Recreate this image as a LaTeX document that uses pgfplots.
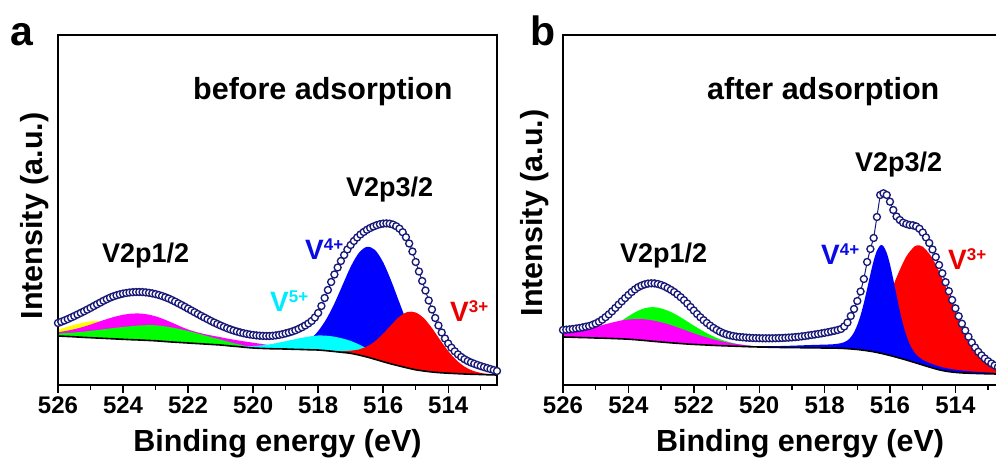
\documentclass[border=0pt]{standalone}
\usepackage{fontspec}
\setmainfont{Liberation Sans}
\usepackage{pgfplots}
\pgfplotsset{compat=1.18}
\definecolor{envc}{RGB}{25,25,120}
\definecolor{cyn}{RGB}{0,255,255}
\definecolor{grn}{RGB}{0,255,0}
\definecolor{mag}{RGB}{255,0,255}
\definecolor{yel}{RGB}{255,255,0}
\definecolor{blu}{RGB}{0,0,255}
\definecolor{rd}{RGB}{255,0,0}
\definecolor{lblblue}{RGB}{10,10,230}
\definecolor{lblcyan}{RGB}{0,235,255}
\definecolor{lblred}{RGB}{235,0,0}
\newcommand{\sups}[1]{\raisebox{9pt}{\fontsize{17}{17}\selectfont #1}}
\pgfplotsset{
  xps/.style={
    scale only axis, height=350pt, x dir=reverse, ymin=0, ymax=350,
    axis on top, ytick=\empty, xtick={514,516,...,526}, minor xtick={513,515,...,525},
    tick align=outside, xtick pos=left, ytick pos=left,
    major tick length=8pt, minor tick length=5pt,
    every tick/.style={black, line width=1.4pt},
    axis line style={line width=1.5pt},
    xticklabel style={font=\fontsize{24}{28}\selectfont\bfseries},
    /pgf/number format/assume math mode=true,
    /pgf/number format/1000 sep={},
  },
  fillp/.style={draw=none, smooth, forget plot},
  bgline/.style={black, line width=1.6pt, smooth, forget plot},
  envl/.style={envc, line width=1pt, mark=*, mark size=3.5pt, mark options={fill=white, draw=envc, line width=1.35pt, solid}},
}
\begin{document}
\begin{tikzpicture}
\useasboundingbox (0pt,0pt) rectangle (996pt,465pt);
% ---------------- panel a ----------------
\begin{axis}[xps, at={(277.5pt,255pt)}, anchor=center, width=439pt, xmin=512.5, xmax=526,
  xlabel={Binding energy (eV)},
  xlabel style={at={(axis description cs:0.5,0)}, anchor=base, yshift=-67pt, font=\fontsize{30.5}{36}\selectfont\bfseries}]
% yellow
\addplot[fillp, fill=yel] coordinates {(526,55.4)(525.75,57.7)(525.5,60.2)(525.25,62.2)(525,63.7)(524.75,63.9)(524.5,62.9)(524.25,60.6)(524,57.7)(523.75,54.4)(523.5,51.4)(523.25,48.8)(523,46.7)(522.75,45.0)(522.5,43.7)(522.25,42.5)(522,42.0)} \closedcycle;
% magenta
\addplot[fillp, fill=mag] coordinates {(526,52.8)(525.75,54.1)(525.5,55.8)(525.25,57.9)(525,60.4)(524.75,63.2)(524.5,65.9)(524.25,68.3)(524,70.2)(523.75,71.3)(523.5,71.5)(523.25,70.6)(523,68.7)(522.75,65.8)(522.5,62.4)(522.25,58.8)(522,55.5)(521.75,53.0)(521.5,51.0)(521.25,49.3)(521,47.8)(520.75,46.2)(520.5,44.8)(520.25,43.5)(520,42.3)(519.75,41.1)(519.5,39.8)(519.25,38.6)(519,37.5)(518.75,36.5)(518.5,35.8)(518.25,35.2)(518,35.0)} \closedcycle;
% green
\addplot[fillp, fill=grn] coordinates {(526,51.5)(525.75,51.9)(525.5,52.5)(525.25,53.2)(525,54.1)(524.75,55.1)(524.5,56.1)(524.25,57.1)(524,58.0)(523.75,58.8)(523.5,59.5)(523.25,59.8)(523,59.7)(522.75,58.8)(522.5,57.5)(522.25,55.9)(522,54.0)(521.75,51.9)(521.5,49.7)(521.25,47.5)(521,45.4)(520.75,43.1)(520.5,41.1)(520.25,39.2)(520,37.7)(519.75,36.8)(519.5,36.3)} \closedcycle;
% blue V4+
\addplot[fillp, fill=blu] coordinates {(519.5,36.3)(519.25,36.5)(519,37.0)(518.75,38.1)(518.5,40.7)(518.25,45.6)(518,53.9)(517.75,65.8)(517.5,81.5)(517.25,99.9)(517,118.2)(516.75,132.0)(516.5,138.2)(516.25,135.0)(516,122.7)(515.75,103.9)(515.5,82.4)(515.25,61.4)(515,43.8)(514.75,30.9)(514.5,22.1)(514.25,16.8)(514,13.9)(513.75,12.3)(513.5,11.3)(513.25,10.7)} \closedcycle;
% cyan V5+
\addplot[fillp, fill=cyn] coordinates {(521,40.2)(520.75,39.6)(520.5,39.2)(520.25,38.9)(520,39.0)(519.75,39.6)(519.5,40.6)(519.25,42.1)(519,43.8)(518.75,45.5)(518.5,47.2)(518.25,48.6)(518,49.5)(517.75,49.3)(517.5,48.3)(517.25,46.5)(517,44.1)(516.75,40.6)(516.5,36.6)(516.25,32.4)(516,28.2)(515.75,24.5)(515.5,21.3)(515.25,18.5)(515,16.1)(514.75,14.6)(514.5,13.3)(514.25,12.3)} \closedcycle;
% red V3+
\addplot[fillp, fill=rd] coordinates {(518,35.0)(517.75,34.4)(517.5,33.9)(517.25,33.7)(517,34.3)(516.75,35.5)(516.5,38.5)(516.25,43.7)(516,51.3)(515.75,60.1)(515.5,68.3)(515.25,73.0)(515,72.5)(514.75,66.8)(514.5,56.9)(514.25,45.1)(514,33.9)(513.75,24.9)(513.5,18.4)(513.25,14.3)(513,12.1)(512.75,10.8)(512.5,10.3)} \closedcycle;
% background
\addplot[fillp, fill=white] coordinates {(526,49.0)(525.75,48.6)(525.5,48.2)(525.25,47.7)(525,47.3)(524.75,46.9)(524.5,46.5)(524.25,46.1)(524,45.7)(523.75,45.3)(523.5,45.0)(523.25,44.6)(523,44.2)(522.75,43.6)(522.5,43.0)(522.25,42.5)(522,42.0)(521.75,41.5)(521.5,41.0)(521.25,40.5)(521,40.0)(520.75,39.2)(520.5,38.5)(520.25,37.7)(520,37.0)(519.75,36.6)(519.5,36.3)(519.25,36.1)(519,36.0)(518.75,35.7)(518.5,35.5)(518.25,35.2)(518,35.0)(517.75,34.3)(517.5,33.5)(517.25,32.6)(517,31.7)(516.75,30.0)(516.5,28.0)(516.25,25.7)(516,23.3)(515.75,21.0)(515.5,19.0)(515.25,17.0)(515,15.2)(514.75,14.0)(514.5,13.0)(514.25,12.3)(514,11.8)(513.75,11.4)(513.5,11.0)(513.25,10.7)(513,10.5)(512.75,10.2)(512.5,10.0)} \closedcycle;
\addplot[bgline] coordinates {(526,49.0)(525.75,48.6)(525.5,48.2)(525.25,47.7)(525,47.3)(524.75,46.9)(524.5,46.5)(524.25,46.1)(524,45.7)(523.75,45.3)(523.5,45.0)(523.25,44.6)(523,44.2)(522.75,43.6)(522.5,43.0)(522.25,42.5)(522,42.0)(521.75,41.5)(521.5,41.0)(521.25,40.5)(521,40.0)(520.75,39.2)(520.5,38.5)(520.25,37.7)(520,37.0)(519.75,36.6)(519.5,36.3)(519.25,36.1)(519,36.0)(518.75,35.7)(518.5,35.5)(518.25,35.2)(518,35.0)(517.75,34.3)(517.5,33.5)(517.25,32.6)(517,31.7)(516.75,30.0)(516.5,28.0)(516.25,25.7)(516,23.3)(515.75,21.0)(515.5,19.0)(515.25,17.0)(515,15.2)(514.75,14.0)(514.5,13.0)(514.25,12.3)(514,11.8)(513.75,11.4)(513.5,11.0)(513.25,10.7)(513,10.5)(512.75,10.2)(512.5,10.0)};
% envelope
\addplot[envl] coordinates {(526.0,62.0)(525.9,63.2)(525.8,64.5)(525.7,65.9)(525.6,67.4)(525.5,68.9)(525.4,70.5)(525.3,72.1)(525.2,73.7)(525.1,75.4)(525.0,77.1)(524.9,78.9)(524.8,80.7)(524.7,82.4)(524.6,84.2)(524.5,85.8)(524.4,87.3)(524.3,88.6)(524.2,89.7)(524.1,90.6)(524.0,91.4)(523.9,92.0)(523.8,92.5)(523.7,92.8)(523.6,93.0)(523.5,93.0)(523.4,92.9)(523.3,92.6)(523.2,92.2)(523.1,91.6)(523.0,90.9)(522.9,90.0)(522.8,89.0)(522.7,87.8)(522.6,86.5)(522.5,85.0)(522.4,83.4)(522.3,81.7)(522.2,80.0)(522.1,78.2)(522.0,76.4)(521.9,74.6)(521.8,72.8)(521.7,71.0)(521.6,69.2)(521.5,67.5)(521.4,65.8)(521.3,64.1)(521.2,62.5)(521.1,61.0)(521.0,59.5)(520.9,58.1)(520.8,56.8)(520.7,55.6)(520.6,54.5)(520.5,53.5)(520.4,52.6)(520.3,51.8)(520.2,51.1)(520.1,50.5)(520.0,50.0)(519.9,49.6)(519.8,49.3)(519.7,49.1)(519.6,49.0)(519.5,49.0)(519.4,49.2)(519.3,49.6)(519.2,50.1)(519.1,50.8)(519.0,51.6)(518.9,52.5)(518.8,53.5)(518.7,54.7)(518.6,56.1)(518.5,57.7)(518.4,59.5)(518.3,61.6)(518.2,64.0)(518.1,67.5)(518.0,72.0)(517.9,79.0)(517.8,87.0)(517.7,95.0)(517.6,103.0)(517.5,110.5)(517.4,117.5)(517.3,124.0)(517.2,130.0)(517.1,135.5)(517.0,140.0)(516.9,144.0)(516.8,147.5)(516.7,150.5)(516.6,153.0)(516.5,155.2)(516.4,157.0)(516.3,158.5)(516.2,159.8)(516.1,160.8)(516.0,161.4)(515.9,161.6)(515.8,161.3)(515.7,160.4)(515.6,158.8)(515.5,156.4)(515.4,152.8)(515.3,147.8)(515.2,141.5)(515.1,133.5)(515.0,123.0)(514.9,113.5)(514.8,104.0)(514.7,94.5)(514.6,84.5)(514.5,75.5)(514.4,67.0)(514.3,59.5)(514.2,52.5)(514.1,46.5)(514.0,41.5)(513.9,37.3)(513.8,33.7)(513.7,30.6)(513.6,28.0)(513.5,25.8)(513.4,24.0)(513.3,22.5)(513.2,21.2)(513.1,20.0)(513.0,18.9)(512.9,17.9)(512.8,16.9)(512.7,15.9)(512.6,14.9)(512.5,14.0)};
\end{axis}
% ---------------- panel b ----------------
\begin{axis}[xps, at={(782.5pt,255pt)}, anchor=center, width=439pt, xmin=512.575, xmax=526,
  xlabel={Binding energy (eV)},
  xlabel style={at={(axis description cs:0.54,0)}, anchor=base, yshift=-67pt, font=\fontsize{30.5}{36}\selectfont\bfseries}]
% green
\addplot[fillp, fill=grn] coordinates {(526,48.0)(525.75,48.3)(525.5,48.7)(525.25,49.8)(525,51.5)(524.75,54.4)(524.5,58.4)(524.25,63.4)(524,68.7)(523.75,73.5)(523.5,76.8)(523.25,77.9)(523,76.6)(522.75,73.7)(522.5,69.6)(522.25,64.6)(522,59.4)(521.75,54.5)(521.5,50.1)(521.25,46.4)(521,43.7)(520.75,41.6)(520.5,40.1)(520.25,39.1)(520,38.4)(519.75,37.8)} \closedcycle;
% magenta (drawn over green)
\addplot[fillp, fill=mag] coordinates {(526,51.6)(525.75,52.8)(525.5,54.3)(525.25,56.1)(525,58.1)(524.75,60.4)(524.5,62.4)(524.25,64.3)(524,65.5)(523.75,66.0)(523.5,65.7)(523.25,64.5)(523,62.7)(522.75,60.4)(522.5,57.6)(522.25,54.7)(522,51.7)(521.75,49.0)(521.5,46.6)(521.25,44.4)(521,42.7)(520.75,41.2)(520.5,40.1)(520.25,39.2)(520,38.6)(519.75,38.1)(519.5,37.6)} \closedcycle;
% red V3+
\addplot[fillp, fill=rd] coordinates {(518,37.0)(517.75,37.4)(517.5,38.0)(517.25,39.4)(517,42.5)(516.75,48.4)(516.5,58.4)(516.25,72.9)(516,91.4)(515.75,111.4)(515.5,128.6)(515.25,138.6)(515.1,139.7)(515,138.3)(514.75,129.2)(514.5,113.7)(514.25,94.6)(514,74.7)(513.75,56.4)(513.5,41.4)(513.25,29.9)(513,21.9)(512.75,16.8)(512.5,13.8)} \closedcycle;
% blue V4+
\addplot[fillp, fill=blu] coordinates {(520.5,38.5)(520,38.9)(519.5,38.9)(519,39.3)(518.5,39.9)(518,40.4)(517.75,40.7)(517.5,41.8)(517.4,42.8)(517.3,44.6)(517.2,47.8)(517.1,52.7)(517.0,60.0)(516.9,69.7)(516.8,82.0)(516.7,96.1)(516.6,110.8)(516.5,124.3)(516.4,134.4)(516.3,139.6)(516.25,140.0)(516.2,138.8)(516.1,132.2)(516.0,120.6)(515.9,105.7)(515.8,89.6)(515.7,74.1)(515.6,60.5)(515.5,49.5)(515.4,41.0)(515.3,34.8)(515.2,30.4)(515.1,27.4)(515.0,25.1)(514.75,21.4)(514.5,18.6)(514.25,16.6)(514.0,15.3)(513.75,14.3)(513.5,13.6)(513.25,13.0)(513.0,12.6)(512.75,12.1)(512.5,11.8)} \closedcycle;
% background
\addplot[fillp, fill=white] coordinates {(526,48.0)(525.75,47.8)(525.5,47.5)(525.25,47.3)(525,47.0)(524.75,46.8)(524.5,46.5)(524.25,46.2)(524,45.8)(523.75,45.2)(523.5,44.5)(523.25,43.7)(523,43.0)(522.75,42.3)(522.5,41.7)(522.25,41.1)(522,40.6)(521.75,40.2)(521.5,39.8)(521.25,39.4)(521,39.1)(520.75,38.8)(520.5,38.5)(520.25,38.2)(520,38.0)(519.75,37.8)(519.5,37.6)(519.25,37.5)(519,37.4)(518.75,37.3)(518.5,37.2)(518.25,37.1)(518,37.0)(517.75,36.9)(517.5,36.7)(517.25,36.2)(517,35.5)(516.75,34.5)(516.5,33.2)(516.25,31.5)(516,29.5)(515.75,27.3)(515.5,25.0)(515.25,22.5)(515,20.0)(514.75,17.5)(514.5,15.2)(514.25,13.6)(514,12.6)(513.75,12.0)(513.5,11.7)(513.25,11.4)(513,11.2)(512.75,11.0)(512.5,10.9)} \closedcycle;
\addplot[bgline] coordinates {(526,48.0)(525.75,47.8)(525.5,47.5)(525.25,47.3)(525,47.0)(524.75,46.8)(524.5,46.5)(524.25,46.2)(524,45.8)(523.75,45.2)(523.5,44.5)(523.25,43.7)(523,43.0)(522.75,42.3)(522.5,41.7)(522.25,41.1)(522,40.6)(521.75,40.2)(521.5,39.8)(521.25,39.4)(521,39.1)(520.75,38.8)(520.5,38.5)(520.25,38.2)(520,38.0)(519.75,37.8)(519.5,37.6)(519.25,37.5)(519,37.4)(518.75,37.3)(518.5,37.2)(518.25,37.1)(518,37.0)(517.75,36.9)(517.5,36.7)(517.25,36.2)(517,35.5)(516.75,34.5)(516.5,33.2)(516.25,31.5)(516,29.5)(515.75,27.3)(515.5,25.0)(515.25,22.5)(515,20.0)(514.75,17.5)(514.5,15.2)(514.25,13.6)(514,12.6)(513.75,12.0)(513.5,11.7)(513.25,11.4)(513,11.2)(512.75,11.0)(512.5,10.9)};
% envelope
\addplot[envl] coordinates {(526.0,55.0)(525.9,55.3)(525.8,55.6)(525.7,56.0)(525.6,56.5)(525.5,57.0)(525.4,57.6)(525.3,58.3)(525.2,59.0)(525.1,60.1)(525.0,61.5)(524.9,63.2)(524.8,65.3)(524.7,67.8)(524.6,70.6)(524.5,73.7)(524.4,77.0)(524.3,80.4)(524.2,83.7)(524.1,86.9)(524.0,90.0)(523.9,93.0)(523.8,95.6)(523.7,97.8)(523.6,99.4)(523.5,100.6)(523.4,101.4)(523.3,101.7)(523.2,101.6)(523.1,101.0)(523.0,100.0)(522.9,98.7)(522.8,97.0)(522.7,95.1)(522.6,93.0)(522.5,90.5)(522.4,87.8)(522.3,84.8)(522.2,81.5)(522.1,78.0)(522.0,74.5)(521.9,71.0)(521.8,67.8)(521.7,64.8)(521.6,62.0)(521.5,59.4)(521.4,57.1)(521.3,55.1)(521.2,53.3)(521.1,51.8)(521.0,50.6)(520.9,49.7)(520.8,49.0)(520.7,48.4)(520.6,48.0)(520.5,47.7)(520.4,47.4)(520.3,47.2)(520.2,47.0)(520.1,46.9)(520.0,46.8)(519.9,46.7)(519.8,46.7)(519.7,46.7)(519.6,46.7)(519.5,46.8)(519.4,46.9)(519.3,47.0)(519.2,47.2)(519.1,47.4)(519.0,47.6)(518.9,47.9)(518.8,48.2)(518.7,48.6)(518.6,49.0)(518.5,49.5)(518.4,50.0)(518.3,50.5)(518.2,51.0)(518.1,51.6)(518.0,52.2)(517.9,52.8)(517.8,53.5)(517.7,54.2)(517.6,55.0)(517.5,56.0)(517.4,58.5)(517.3,62.5)(517.2,69.0)(517.1,76.0)(517.0,84.0)(516.9,93.5)(516.8,106.0)(516.7,123.0)(516.6,136.0)(516.5,147.0)(516.4,168.0)(516.3,190.0)(516.2,191.7)(516.1,190.0)(516.0,183.3)(515.9,175.0)(515.8,168.5)(515.7,165.0)(515.6,162.3)(515.5,161.0)(515.4,160.0)(515.3,159.7)(515.2,158.6)(515.1,156.3)(515.0,152.5)(514.9,147.6)(514.8,142.0)(514.7,135.5)(514.6,128.0)(514.5,120.0)(514.4,111.7)(514.3,102.8)(514.2,93.8)(514.1,85.0)(514.0,76.7)(513.9,68.8)(513.8,61.3)(513.7,54.5)(513.6,48.3)(513.5,42.5)(513.4,37.5)(513.3,33.2)(513.2,29.6)(513.1,26.5)(513.0,23.8)(512.9,21.5)(512.8,19.5)(512.7,17.8)(512.6,16.3)(512.5,15.0)};
\end{axis}
% ---------------- text ----------------
\begin{scope}[every node/.style={inner sep=0pt}]
\node[anchor=base west, font=\fontsize{41}{45}\selectfont\bfseries] at (10pt,419pt) {a};
\node[anchor=base west, font=\fontsize{41}{45}\selectfont\bfseries] at (530pt,419pt) {b};
\node[anchor=base west, font=\fontsize{30.5}{36}\selectfont\bfseries] at (193pt,365pt) {before adsorption};
\node[anchor=base west, font=\fontsize{30.5}{36}\selectfont\bfseries] at (707pt,365pt) {after adsorption};
\node[rotate=90, anchor=base, font=\fontsize{30.5}{36}\selectfont\bfseries] at (42pt,249pt) {Intensity (a.u.)};
\node[rotate=90, anchor=base, font=\fontsize{30.5}{36}\selectfont\bfseries] at (542pt,252pt) {Intensity (a.u.)};
\node[anchor=base west, font=\fontsize{27}{32}\selectfont\bfseries] at (346pt,268pt) {V2p3/2};
\node[anchor=base west, font=\fontsize{27}{32}\selectfont\bfseries] at (102pt,202pt) {V2p1/2};
\node[anchor=base west, font=\fontsize{28}{32}\selectfont\bfseries, text=lblblue] at (305pt,205pt) {V\sups{4+}};
\node[anchor=base west, font=\fontsize{28}{32}\selectfont\bfseries, text=lblcyan] at (270pt,153pt) {V\sups{5+}};
\node[anchor=base west, font=\fontsize{28}{32}\selectfont\bfseries, text=lblred] at (450pt,143pt) {V\sups{3+}};
\node[anchor=base west, font=\fontsize{27}{32}\selectfont\bfseries] at (855pt,293pt) {V2p3/2};
\node[anchor=base west, font=\fontsize{27}{32}\selectfont\bfseries] at (620pt,202pt) {V2p1/2};
\node[anchor=base west, font=\fontsize{28}{32}\selectfont\bfseries, text=lblblue] at (821pt,200pt) {V\sups{4+}};
\node[anchor=base west, font=\fontsize{28}{32}\selectfont\bfseries, text=lblred] at (948pt,195pt) {V\sups{3+}};
\end{scope}
\end{tikzpicture}
\end{document}
